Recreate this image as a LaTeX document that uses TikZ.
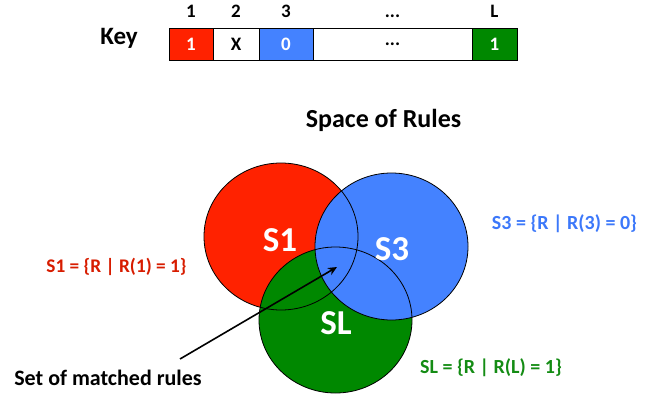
\documentclass[tikz,border=0pt]{standalone}
\usepackage{fontspec}
\setmainfont{Carlito}
\usetikzlibrary{arrows.meta}
\definecolor{kred}{RGB}{255,34,0}
\definecolor{kblue}{RGB}{68,130,255}
\definecolor{kgreen}{RGB}{0,136,0}
\definecolor{lred}{RGB}{215,28,0}
\definecolor{lblue}{RGB}{60,120,250}
\definecolor{lgreen}{RGB}{20,140,20}
\tikzset{
  keybox/.style={draw=black, line width=0.9pt, minimum height=32pt, inner sep=0pt, font=\fontsize{19}{22}\selectfont\bfseries},
  hdr/.style={anchor=base, inner sep=0pt, font=\fontsize{19}{22}\selectfont\bfseries},
  big/.style={anchor=base, inner sep=0pt, text=white, font=\fontsize{35}{40}\selectfont\bfseries},
  lbl/.style={anchor=base, inner sep=0pt, font=\fontsize{20}{24}\selectfont\bfseries},
  setc/.style={draw=black, line width=0.8pt},
}
\begin{document}
\begin{tikzpicture}[x=1pt,y=-1pt]
\useasboundingbox (0,0) rectangle (660,398);
% key
\node[anchor=base, inner sep=0pt, font=\fontsize{25}{28}\selectfont\bfseries] (key) at (119,45) {Key};
\node[keybox, fill=kred, text=white, minimum width=44pt] (b1) at (191,44) {1};
\node[keybox, fill=white, minimum width=46pt] (b2) at (236,44) {X};
\node[keybox, fill=kblue, text=white, minimum width=54pt] (b3) at (286,44) {0};
\node[keybox, fill=white, minimum width=159pt] (b4) at (392.5,44) {...};
\node[keybox, fill=kgreen, text=white, minimum width=45pt] (b5) at (494.5,44) {1};
\node[hdr] (h1) at (191,18) {1};
\node[hdr] (h2) at (236,18) {2};
\node[hdr] (h3) at (286,18) {3};
\node[hdr] (h4) at (392.5,18) {...};
\node[hdr] (h5) at (494.5,18) {L};
% title
\node[anchor=base, inner sep=0pt, font=\fontsize{26}{30}\selectfont\bfseries] (title) at (383.5,128) {Space of Rules};
% sets
\fill[kred] (281,236.5) ellipse [x radius=77, y radius=73.5];
\fill[kgreen] (335.5,320) ellipse [x radius=76.5, y radius=73];
\fill[kblue] (391.5,246.5) ellipse [x radius=76.5, y radius=73.5];
\draw[setc] (281,236.5) ellipse [x radius=77, y radius=73.5];
\draw[setc] (335.5,320) ellipse [x radius=76.5, y radius=73];
\draw[setc] (391.5,246.5) ellipse [x radius=76.5, y radius=73.5];
\node[big] (s1) at (280,251) {S1};
\node[big] (s3) at (392,260) {S3};
\node[big] (sl) at (336,334) {SL};
% labels
\node[lbl, text=lred, font=\fontsize{19.3}{23}\selectfont\bfseries] (l1) at (116.5,272) {S1 = \{R | R(1) = 1\}};
\node[lbl, text=lblue] (l3) at (564.5,229) {S3 = \{R | R(3) = 0\}};
\node[lbl, text=lgreen] (ll) at (491,373) {SL = \{R | R(L) = 1\}};
\node[anchor=base, inner sep=0pt, font=\fontsize{22}{26}\selectfont\bfseries] (m) at (108,385) {Set of matched rules};
\coordinate (astart) at (180,359);
\coordinate (matched) at (337,267);
\draw[line width=1.6pt, -{Stealth[length=9pt,width=8pt]}] (astart) -- (matched);
\end{tikzpicture}
\end{document}
